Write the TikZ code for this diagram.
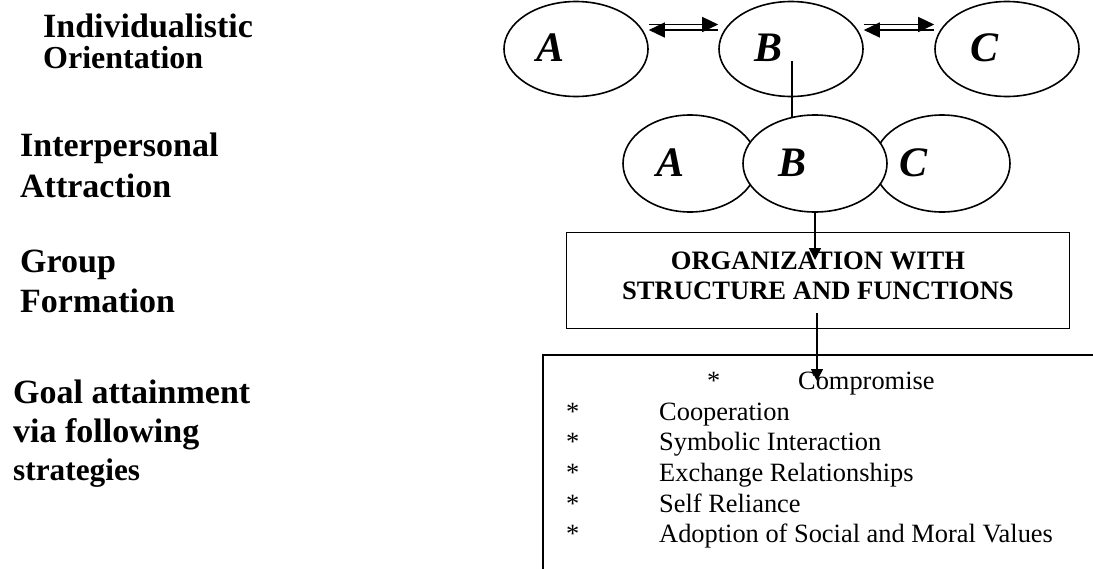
\documentclass[tikz,border=0pt]{standalone}
\usepackage{fontspec}
\setmainfont{Liberation Serif}
\usetikzlibrary{shapes.geometric,arrows.meta,positioning}

\begin{document}
\begin{tikzpicture}[x=1pt,y=-1pt]
    \tikzstyle{oval}=[ellipse,draw,line width=1.6pt,fill=white,minimum width=144pt,minimum height=95pt,inner sep=0pt]
    \tikzstyle{letter}=[font=\fontsize{42}{48}\selectfont\bfseries\itshape,inner sep=0pt]
    \tikzstyle{stage}=[anchor=north west,align=left,inner sep=0pt,font=\fontsize{34}{40}\selectfont\bfseries]
    \tikzstyle{orgbox}=[draw,line width=1.8pt,align=center,inner sep=0pt,text depth=9.4pt,font=\fontsize{26.6}{30}\selectfont\bfseries]
    \tikzstyle{listbox}=[draw,line width=1.8pt,anchor=north west,inner sep=0pt]
    \tikzstyle{items}=[anchor=north west,align=left,inner sep=0pt,font=\fontsize{26.4}{30.6}\selectfont]
    \tikzstyle{downarrow}=[line width=1.6pt,-{Triangle[length=12pt,width=12pt]}]
    \tikzstyle{pairarrow}=[line width=1.3pt,-{Triangle[length=16pt,width=15pt]}]
    \fill[white] (0,0) rectangle (1093,568);
    \clip (0,0) rectangle (1093,568);

    % stages on the left
    \node[stage] (indiv) at (43,14) {Individualistic\\[-9pt]{\fontsize{32}{34}\selectfont Orientation}};
    \node[stage] (inter) at (20,133) {Interpersonal\\[1pt]Attraction};
    \node[stage] (group) at (20,250) {Group\\Formation};
    \node[stage] (goal) at (13,380) {Goal attainment\\[-1pt]via following\\[-2pt]{\fontsize{31.3}{34}\selectfont strategies}};

    % individuals
    \node[oval] (topA) at (576,49) {};
    \node[oval] (topB) at (791,49) {};
    \node[oval] (topC) at (1007,49) {};
    \node[letter] at ([xshift=-25pt,yshift=1.5pt]topA.center) {A};
    \node[letter] at ([xshift=-23pt,yshift=1.5pt]topB.center) {B};
    \node[letter] at ([xshift=-23pt,yshift=1.5pt]topC.center) {C};
    \draw[pairarrow] ([yshift=24.5pt]topA.east) -- ([yshift=24.5pt]topB.west);
    \draw[pairarrow] ([yshift=19pt]topB.west) -- ([yshift=19pt]topA.east);
    \draw[pairarrow] ([yshift=24.5pt]topB.east) -- ([yshift=24.5pt]topC.west);
    \draw[pairarrow] ([yshift=19pt]topC.west) -- ([yshift=19pt]topB.east);

    % attraction
    \node[oval,minimum width=134pt,minimum height=97pt] (midA) at (690,163.5) {};
    \node[oval,minimum width=136pt,minimum height=97pt] (midC) at (942,163.5) {};
    \node[oval,minimum height=97pt] (midB) at (815,163.5) {};
    \node[letter] at ([xshift=-19pt,yshift=1pt]midA.center) {A};
    \node[letter] at ([xshift=-23pt,yshift=1pt]midB.center) {B};
    \node[letter] at ([xshift=-29pt,yshift=1pt]midC.center) {C};
    \coordinate (stemTop) at (792,61);
    \draw[line width=1.6pt] (stemTop) -- (stemTop |- midB.116);

    % organization
    \node[orgbox,minimum width=503pt,minimum height=96pt] (org) at (818,280.5) {ORGANIZATION WITH\\STRUCTURE AND FUNCTIONS};
    \coordinate (orgTip) at (815,260);
    \draw[downarrow] (midB.south) -- (orgTip);

    % strategies
    \node[listbox,minimum width=600pt,minimum height=260pt] (list) at (542,354) {};
    \node[items] (strategies) at (566,372) {%
      \hspace*{141pt}\makebox[91pt][l]{*}Compromise\\
      \makebox[93pt][l]{*}Cooperation\\
      \makebox[93pt][l]{*}Symbolic Interaction\\
      \makebox[93pt][l]{*}Exchange Relationships\\
      \makebox[93pt][l]{*}Self Reliance\\
      \makebox[93pt][l]{*}Adoption of Social and Moral Values};
    \coordinate (orgTail) at (817,313);
    \coordinate (listTip) at (817,381);
    \draw[downarrow] (orgTail) -- (listTip);
\end{tikzpicture}
\end{document}
